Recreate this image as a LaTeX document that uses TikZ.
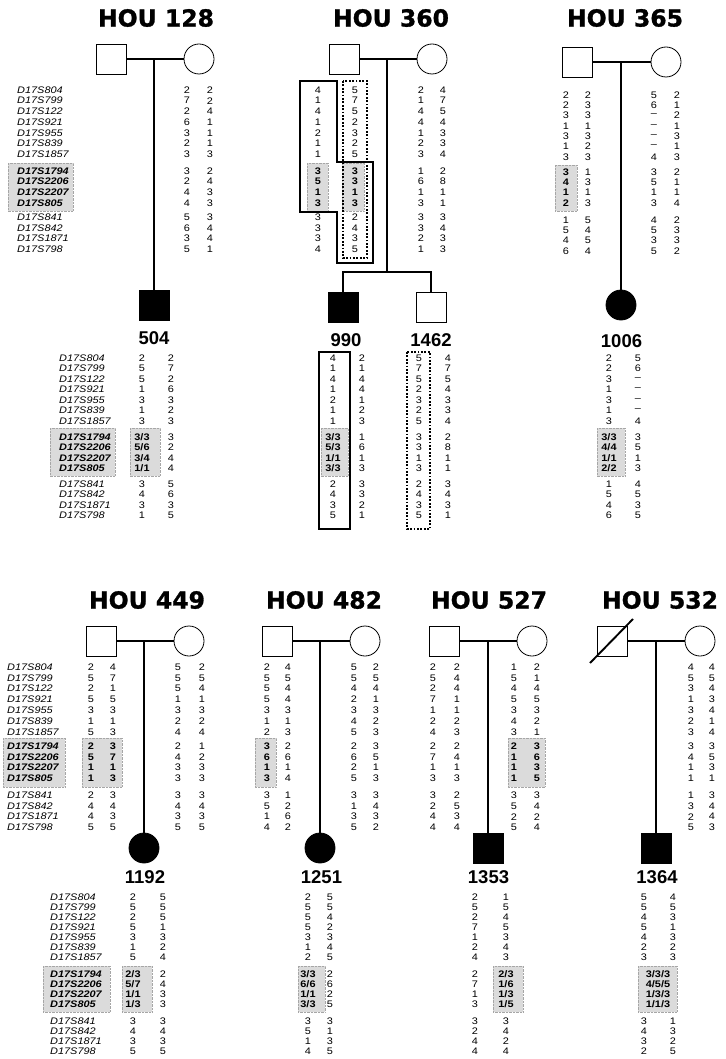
\documentclass[tikz,border=0pt]{standalone}
\usepackage{fontspec}
\setmainfont{Liberation Sans}
\newfontfamily\txtf[FakeStretch=1.15]{Liberation Sans}
\newfontfamily\houf[FakeBold=1.2]{DejaVu Sans}
\usetikzlibrary{calc}
\newcommand\setrows[4]{\def\rY{#1}\def\rS{#2}\def\rG{#3}\def\rH{#4}}
\def\skipmark{x}
\def\nd{\textendash}
\newcommand\alcol[4]{%
  \foreach \v [count=\i] in {#4}{%
    \ifx\v\skipmark\else
      \pgfmathsetmacro\yy{\rY+(\i-1)*\rS+(\i>7)*\rG+(\i>11)*\rH}%
      \pgfmathtruncatemacro\isb{#3*(\i>7)*(\i<12)}%
      \node[al] (#1-\i) at (#2,\yy) {\ifnum\isb=1 \bfseries\fi\v};%
    \fi
  }}
\newcommand\mkcol[2]{%
  \foreach \v [count=\i] in {D17S804,D17S799,D17S122,D17S921,D17S955,D17S839,D17S1857,D17S1794,D17S2206,D17S2207,D17S805,D17S841,D17S842,D17S1871,D17S798}{%
    \pgfmathsetmacro\yy{\rY+(\i-1)*\rS+(\i>7)*\rG+(\i>11)*\rH}%
    \pgfmathtruncatemacro\isb{(\i>7)*(\i<12)}%
    \node[mk] (#1-\i) at (#2,\yy) {\ifnum\isb=1 \bfseries\fi\v};%
  }}
\begin{document}
\begin{tikzpicture}[x=1pt,y=-1pt,
  al/.style={font=\txtf\fontsize{9.5}{10}\selectfont, inner sep=0pt},
  mk/.style={font=\txtf\itshape\fontsize{9.5}{10}\selectfont, inner sep=0pt, anchor=west},
  ttl/.style={font=\houf\bfseries\fontsize{23.5}{24}\selectfont, inner sep=0pt},
  lab/.style={font=\bfseries\fontsize{18.5}{18.5}\selectfont, inner sep=0pt},
  male/.style={draw, rectangle, line width=0.8pt, minimum size=30pt, inner sep=0pt},
  female/.style={draw, circle, line width=0.8pt, minimum size=30pt, inner sep=0pt},
  aff/.style={fill=black},
  ped/.style={line width=1.9pt},
  shd/.style={fill=black!14, draw=black!35, densely dotted, line width=0.4pt},
  hap/.style={line width=1.6pt},
  haq/.style={line width=1.9pt, dash pattern=on 1.8pt off 1.6pt}
]
\useasboundingbox (0,0) rectangle (725,1059);
% ---------- shading ----------
\foreach \a/\b/\c/\d in {8/163/73/211, 307/163/328/211, 342/163/364/211, 555/165/577/211,
  50/428/115/476, 130/428/160/476, 321/428/348/476, 597/428/625/476,
  3/738/65/787, 82/738/122/787, 255/738/276/787, 508/738/545/787,
  43/966/110/1012, 122/966/152/1012, 298/966/325/1012, 493/966/523/1012, 638/966/677/1012}
  {\path[shd] (\a,\b) rectangle (\c,\d);}
% ---------- titles ----------
\node[ttl] (t128) at (156,18) {HOU 128};
\node[ttl] (t360) at (391,18) {HOU 360};
\node[ttl] (t365) at (625,18) {HOU 365};
\node[ttl] (t449) at (147,600) {HOU 449};
\node[ttl] (t482) at (324,600) {HOU 482};
\node[ttl] (t527) at (489,600) {HOU 527};
\node[ttl] (t532) at (660,600) {HOU 532};
% ---------- HOU 128 ----------
\node[male] (fa128) at (111,59) {};
\node[female] (mo128) at (199,59) {};
\coordinate (mm128) at (154,59);
\node[male,aff] (c504) at (154,305) {};
\draw[ped] (fa128) -- (mo128);
\draw[ped] (mm128) -- (c504);
\node[lab] (l504) at (154,338.5) {504};
% ---------- HOU 360 ----------
\node[male] (fa360) at (344,59) {};
\node[female] (mo360) at (432,59) {};
\coordinate (mm360) at (387,59);
\coordinate (sib360) at (387,272);
\node[male,aff] (c990) at (343,307) {};
\node[male] (c1462) at (431,307) {};
\draw[ped] (fa360) -- (mo360);
\draw[ped] (mm360) -- (sib360);
\draw[ped] (c990.north) |- (sib360) -| (c1462.north);
\node[lab] (l990) at (346,340) {990};
\node[lab] (l1462) at (431,340) {1462};
\draw[hap] (300,81) -- (337,81) -- (337,162) -- (373,162) -- (373,263) -- (337,263) -- (337,212) -- (300,212) -- cycle;
\draw[haq] (343,81) rectangle (367,258);
\draw[hap] (319,352) rectangle (350,529);
\draw[haq] (407,352) rectangle (430,529);
% ---------- HOU 365 ----------
\node[male] (fa365) at (577,62) {};
\node[female] (mo365) at (666,62) {};
\coordinate (mm365) at (621,62);
\node[female,aff] (c1006) at (621,305) {};
\draw[ped] (fa365) -- (mo365);
\draw[ped] (mm365) -- (c1006);
\node[lab] (l1006) at (621.5,341) {1006};
% ---------- top row genotypes ----------
\setrows{90}{10.7}{6}{3.5}
\mkcol{n128}{17}
\alcol{a128}{187}{0}{2,7,2,6,3,2,3,3,2,4,4,5,6,3,5}
\alcol{b128}{210}{0}{2,2,4,1,1,1,3,2,4,3,3,3,4,4,1}
\alcol{a360}{318}{1}{4,1,4,1,2,1,1,3,5,1,3,3,3,3,4}
\alcol{b360}{355}{1}{5,7,5,2,3,2,5,3,3,1,3,2,4,3,5}
\alcol{c360}{421}{0}{2,1,4,4,1,2,3,1,6,1,3,3,3,2,1}
\alcol{d360}{443}{0}{4,7,5,4,3,3,4,2,8,1,1,3,4,3,3}
\setrows{95}{10.3}{5}{6.7}
\alcol{a365}{566}{1}{2,2,3,1,3,1,3,3,4,1,2,1,5,4,6}
\alcol{b365}{588}{0}{2,3,3,1,3,2,3,1,3,1,3,5,4,5,4}
\alcol{c365}{654}{0}{5,6,\nd,\nd,\nd,\nd,4,3,5,1,3,4,5,3,5}
\alcol{d365}{677}{0}{2,1,2,1,3,1,3,2,1,1,4,2,3,3,2}
% ---------- first row children ----------
\setrows{358}{10.5}{5.5}{5}
\mkcol{n504}{59}
\alcol{a504}{142}{1}{2,5,5,1,3,1,3,3/3,5/6,3/4,1/1,3,4,3,1}
\alcol{b504}{171}{0}{2,7,2,6,3,2,3,3,2,4,4,5,6,3,5}
\alcol{a990}{333}{1}{4,1,4,1,2,1,1,3/3,5/3,1/1,3/3,2,4,3,5}
\alcol{b990}{362}{0}{2,1,4,4,1,2,3,1,6,1,3,3,3,2,1}
\alcol{a1462}{419}{0}{5,7,5,2,3,2,5,3,3,1,3,2,4,3,5}
\alcol{b1462}{448}{0}{4,7,5,4,3,3,4,2,8,1,1,3,4,3,1}
\alcol{a1006}{609}{1}{2,2,3,1,3,1,3,3/3,4/4,1/1,2/2,1,5,4,6}
\alcol{b1006}{638}{0}{5,6,\nd,\nd,\nd,\nd,4,3,5,1,3,4,5,3,5}
% ---------- HOU 449 ----------
\node[male] (fa449) at (101,641) {};
\node[female] (mo449) at (189,641) {};
\coordinate (mm449) at (144,641);
\node[female,aff] (c1192) at (144,848) {};
\draw[ped] (fa449) -- (mo449);
\draw[ped] (mm449) -- (c1192);
\node[lab] (l1192) at (145,877) {1192};
% ---------- HOU 482 ----------
\node[male] (fa482) at (277.5,641) {};
\node[female] (mo482) at (365,641) {};
\coordinate (mm482) at (320,641);
\node[female,aff] (c1251) at (320,848) {};
\draw[ped] (fa482) -- (mo482);
\draw[ped] (mm482) -- (c1251);
\node[lab] (l1251) at (321.5,877) {1251};
% ---------- HOU 527 ----------
\node[male] (fa527) at (444,641) {};
\node[female] (mo527) at (532,641) {};
\coordinate (mm527) at (488,641);
\node[male,aff] (c1353) at (488,848) {};
\draw[ped] (fa527) -- (mo527);
\draw[ped] (mm527) -- (c1353);
\node[lab] (l1353) at (488.5,877) {1353};
% ---------- HOU 532 ----------
\node[male] (fa532) at (612,641) {};
\node[female] (mo532) at (700,641) {};
\coordinate (mm532) at (656,641);
\node[male,aff] (c1364) at (656,848) {};
\draw[ped] (fa532) -- (mo532);
\draw[ped] (mm532) -- (c1364);
\draw[ped] ($(fa532.center)+(-22,22)$) -- ($(fa532.center)+(21,-22)$);
\node[lab] (l1364) at (657,877) {1364};
% ---------- second row parents genotypes ----------
\setrows{667}{10.83}{3.2}{5.7}
\mkcol{n449}{7}
\alcol{a449}{91}{1}{2,5,2,5,3,1,5,2,5,1,1,2,4,4,5}
\alcol{b449}{113}{1}{4,7,1,5,3,1,3,3,7,1,3,3,4,3,5}
\alcol{c449}{178}{0}{5,5,5,1,3,2,4,2,4,3,3,3,4,3,5}
\alcol{d449}{202}{0}{2,5,4,1,3,2,4,1,2,3,3,3,4,3,5}
\alcol{a482}{267}{1}{2,5,5,5,3,1,2,3,6,1,3,3,5,1,4}
\alcol{b482}{288}{0}{4,5,4,4,3,1,3,2,6,1,4,1,2,6,2}
\alcol{c482}{354}{0}{5,5,4,2,3,4,5,2,6,2,5,3,1,3,5}
\alcol{d482}{376}{0}{2,5,4,1,3,2,3,3,5,1,3,3,4,3,2}
\alcol{a527}{433}{0}{2,5,2,7,1,2,4,2,7,1,3,3,2,4,4}
\alcol{b527}{457}{0}{2,4,4,1,1,2,3,2,4,1,3,2,5,3,4}
\alcol{c527}{514}{1}{1,5,4,5,3,4,3,2,1,1,1,3,5,2,5}
\alcol{d527}{537}{1}{2,1,4,5,3,2,1,3,6,3,5,3,4,2,4}
\alcol{c532}{691}{0}{4,5,3,1,3,2,3,3,4,1,1,1,3,2,5}
\alcol{d532}{712}{0}{4,5,4,3,4,1,4,3,5,3,1,3,4,4,3}
% ---------- second row children genotypes ----------
\setrows{897}{10}{7}{7}
\mkcol{n1192}{50}
\alcol{a1192}{133}{1}{2,5,2,5,3,1,5,2/3,5/7,1/1,1/3,3,4,3,5}
\alcol{b1192}{163}{0}{5,5,5,1,3,2,4,2,4,3,3,3,4,3,5}
\alcol{a1251}{308}{1}{2,5,5,5,3,1,2,3/3,6/6,1/1,3/3,3,5,1,4}
\alcol{b1251}{330}{0}{5,5,4,2,3,4,5,2,6,2,5,3,1,3,5}
\alcol{a1353}{475}{0}{2,5,2,7,1,2,4,2,7,1,3,3,2,4,4}
\alcol{b1353}{506}{1}{1,5,4,5,3,4,3,2/3,1/6,1/3,1/5,3,4,2,4}
\alcol{a1364}{644}{0}{5,5,4,5,4,2,3,x,x,x,x,3,4,3,2}
\alcol{b1364}{673}{0}{4,5,3,1,3,2,3,x,x,x,x,1,3,2,5}
\alcol{m1364}{658}{1}{x,x,x,x,x,x,x,3/3/3,4/5/5,1/3/3,1/1/3,x,x,x,x}
\end{tikzpicture}
\end{document}
